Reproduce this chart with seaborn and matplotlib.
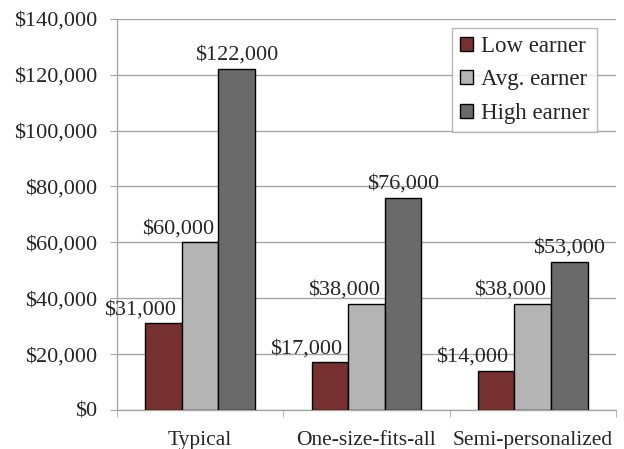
import matplotlib.pyplot as plt
import matplotlib.ticker as mticker
import numpy as np
import pandas as pd
import seaborn as sns

categories = ["Typical", "One-size-fits-all", "Semi-personalized"]
series = ["Low earner", "Avg. earner", "High earner"]
low_earner = [31000, 17000, 14000]
avg_earner = [60000, 38000, 38000]
high_earner = [122000, 76000, 53000]
colors = ["#773030", "#B4B4B4", "#6A6A6A"]

df = pd.DataFrame({
    "category": categories * 3,
    "series": [s for s in series for _ in categories],
    "value": low_earner + avg_earner + high_earner,
})

sns.set_style("white")
plt.rcParams["font.family"] = ["Liberation Serif", "DejaVu Serif"]
plt.rcParams["font.size"] = 16

fig = plt.figure(figsize=(6.24, 4.49), dpi=100)
ax = fig.add_axes([0.1875, 0.087, 0.7995, 0.871])

sns.barplot(
    data=df, x="category", y="value", hue="series", order=categories,
    hue_order=series, palette=colors, width=0.66, gap=0,
    edgecolor="black", linewidth=1, saturation=1, ax=ax, zorder=3,
)

ax.set_xlim(-0.5, 2.5)
ax.set_ylim(0, 140000)
ax.yaxis.set_major_locator(mticker.MultipleLocator(20000))
ax.yaxis.set_major_formatter(mticker.FuncFormatter(lambda v, _: f"${v:,.0f}"))
ax.grid(axis="y", color="#A6A6A6", linewidth=1, zorder=0)
ax.set_axisbelow(True)
ax.set_xlabel("")
ax.set_ylabel("")

for side in ["top", "right"]:
    ax.spines[side].set_visible(False)
for side in ["left", "bottom"]:
    ax.spines[side].set_color("#A6A6A6")
    ax.spines[side].set_linewidth(1)

ax.tick_params(axis="y", which="major", left=True, length=5, color="#A6A6A6", pad=9, labelsize=16)
ax.tick_params(axis="x", which="major", bottom=False, length=0, pad=15, labelsize=15.5)
ax.xaxis.set_minor_locator(mticker.FixedLocator(np.arange(-0.5, 3.0, 1.0)))
ax.tick_params(axis="x", which="minor", bottom=True, length=5, color="#A6A6A6")

# Value labels; Low and Avg labels nudged left like the original
shifts = [-17, -16, 0]
for container, shift in zip(ax.containers, shifts):
    for bar in container:
        h = bar.get_height()
        ax.annotate(
            f"${h:,.0f}", (bar.get_x() + bar.get_width() / 2, h),
            xytext=(shift, 3), textcoords="offset points",
            ha="center", va="bottom", fontsize=16,
        )

leg = ax.legend(
    loc="upper right", bbox_to_anchor=(0.963, 0.977), frameon=True,
    fancybox=False, edgecolor="#A6A6A6", fontsize=16.5, handlelength=0.55,
    handleheight=0.55, handletextpad=0.35, labelspacing=0.55, borderpad=0.35,
    borderaxespad=0,
)
leg.get_frame().set_linewidth(1)

fig.savefig("out.png", dpi=100)
